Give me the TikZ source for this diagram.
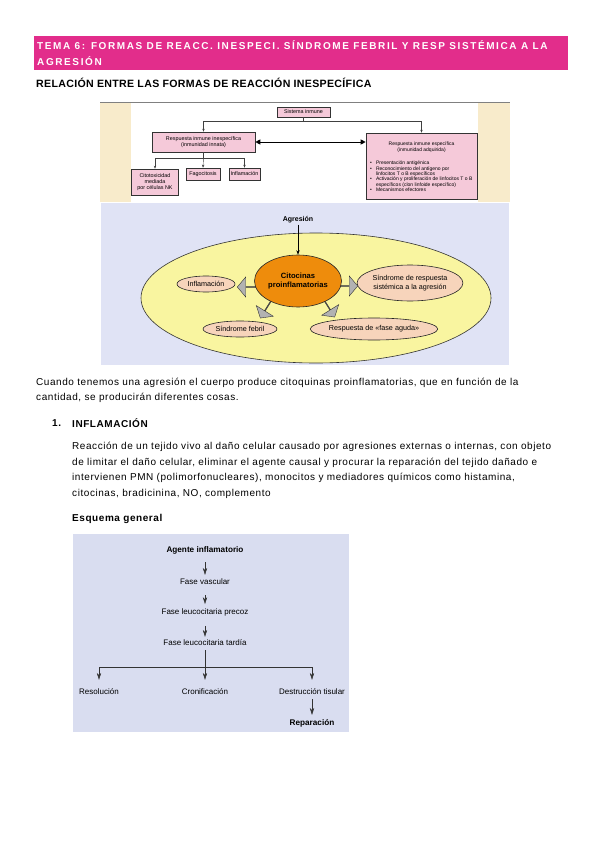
\documentclass[tikz,border=0pt]{standalone}
\usepackage{fontspec}
\setmainfont{Liberation Sans}
\usetikzlibrary{shapes.arrows,shapes.geometric,arrows.meta}
\definecolor{hdr}{HTML}{E22D8B}
\definecolor{beige}{HTML}{F8EBCB}
\definecolor{lav}{HTML}{E0E3F5}
\definecolor{pinkb}{HTML}{F5C9D9}
\definecolor{yel}{HTML}{F9F5A0}
\definecolor{orng}{HTML}{EE8C0C}
\definecolor{peach}{HTML}{F7D4BB}
\definecolor{lavb}{HTML}{D9DDF0}
\newcommand{\bitem}{\par\hangindent=6pt\hangafter=1\makebox[6pt][l]{•}}
\begin{document}
\begin{tikzpicture}[x=1pt,y=-1pt,
  body/.style={anchor=west,inner sep=0,font=\fontsize{10}{12}\selectfont\addfontfeatures{LetterSpace=5.6}},
  bodyb/.style={anchor=west,inner sep=0,font=\fontsize{10}{12}\selectfont\bfseries\addfontfeatures{LetterSpace=5.6}},
  pb/.style={draw=gray!40!black,fill=pinkb,line width=0.6pt,inner sep=0,align=center,font=\fontsize{5.4}{6.2}\selectfont},
  tl/.style={draw=gray!50!black,line width=0.4pt},
  tla/.style={tl,-{Stealth[length=3pt,width=2.4pt]}},
  oval/.style={ellipse,draw=gray!30!black,fill=peach,line width=0.6pt,inner sep=0,align=center,font=\fontsize{7.2}{8.4}\selectfont},
  barrow/.style={single arrow,draw=gray!40!black,fill=gray!60,line width=0.4pt,minimum width=20pt,minimum height=21pt,single arrow head extend=4.5pt,single arrow tip angle=100,single arrow head indent=0pt,inner sep=0},
  sf/.style={inner sep=0,font=\fontsize{8}{9}\selectfont},
  sfb/.style={inner sep=0,font=\fontsize{8.2}{9}\selectfont\bfseries},
  ba/.style={draw=gray!40!black,line width=0.5pt,-{Stealth[length=7pt,width=4.4pt]}}
]
\useasboundingbox (0,0) rectangle (599,848);
\fill[white] (0,0) rectangle (599,848);
% header
\fill[hdr] (34,36) rectangle (568,70);
\node[anchor=west,inner sep=0,text=white,font=\fontsize{10}{11}\selectfont\bfseries\addfontfeatures{LetterSpace=16}] (h1) at (37,45) {TEMA 6: FORMAS DE REACC. INESPECI. SÍNDROME FEBRIL Y RESP SISTÉMICA A LA};
\node[anchor=west,inner sep=0,text=white,font=\fontsize{10}{11}\selectfont\bfseries\addfontfeatures{LetterSpace=16}] (h2) at (37,61) {AGRESIÓN};
\node[anchor=west,inner sep=0,font=\fontsize{10.6}{12}\selectfont\bfseries\addfontfeatures{LetterSpace=3}] (t1) at (36,83) {RELACIÓN ENTRE LAS FORMAS DE REACCIÓN INESPECÍFICA};
% top figure
\fill[beige] (100,102) rectangle (510,202);
\fill[white] (131,103) rectangle (478,202);
\draw[gray,line width=0.8pt] (100,102) -- (510,102);
\node[pb,minimum width=53pt,minimum height=10pt] (si) at (303.5,112) {Sistema inmune};
\node[pb,minimum width=103pt,minimum height=20pt] (ri) at (203.5,142) {Respuesta inmune inespecífica\\(inmunidad innata)};
\node[pb,minimum width=111pt,minimum height=66pt] (re) at (421.5,166) {};
\node[inner sep=0,anchor=north] (ret) at (421.5,142) {\begin{minipage}{103pt}\fontsize{5}{5.4}\selectfont
\centering Respuesta inmune específica\\(inmunidad adquirida)\par\vspace{8pt}\raggedright
\bitem Presentación antigénica
\bitem Reconocimiento del antígeno por\hfil\break linfocitos T o B específicos
\bitem Activación y proliferación de linfocitos T o B\hfil\break específicos (clon linfoide específico)
\bitem Mecanismos efectores\par
\end{minipage}};
\node[pb,minimum width=47pt,minimum height=26pt] (ct) at (155,182) {Citotoxicidad\\mediada\\por células NK};
\node[pb,minimum width=34pt,minimum height=12pt] (fa) at (203,174) {Fagocitosis};
\node[pb,minimum width=31pt,minimum height=12pt] (inf1) at (244.5,174) {Inflamación};
\coordinate (j1) at (303.5,121);
\draw[tl] (si.south) -- (j1);
\draw[tla] (j1) -| (ri.north);
\draw[tla] (j1) -| (re.north);
\draw[line width=0.9pt,{Triangle[length=5pt,width=5pt]}-{Triangle[length=5pt,width=5pt]}] (ri.east) -- (ri.east -| re.west);
\coordinate (j2) at (203.5,158);
\draw[tl] (ri.south) -- (j2);
\draw[tla] (j2) -| (ct.north);
\draw[tla] (j2) -- (fa.north);
\draw[tla] (j2) -| (inf1.north);
% middle figure
\fill[lav] (101,203) rectangle (509,365);
\draw[fill=yel,draw=gray!40!black,line width=0.6pt] (316,298) ellipse [x radius=175, y radius=65];
\node[barrow,rotate=180] (a1) at (248,287) {};
\node[barrow,minimum height=19pt] (a2) at (348,286) {};
\node[barrow,rotate=-122] (a3) at (266,309) {};
\node[barrow,rotate=-58] (a4) at (329,308) {};
\node[ellipse,fill=orng,draw=gray!30!black,line width=0.6pt,minimum width=87pt,minimum height=52pt,inner sep=0,align=center,font=\fontsize{7.6}{8.8}\selectfont\bfseries] (cit) at (298,281) {Citocinas\\proinflamatorias};
\node[inner sep=1pt,font=\fontsize{7}{8}\selectfont\bfseries] (ag) at (298,220) {Agresión};
\draw[line width=0.6pt,-{Stealth[length=4.5pt,width=3.4pt]}] (ag) -- (cit);
\node[oval,minimum width=58pt,minimum height=16pt] (inf2) at (206,284) {Inflamación};
\node[oval,minimum width=104pt,minimum height=36pt] (sra) at (410,283) {Síndrome de respuesta\\sistémica a la agresión};
\node[oval,minimum width=74pt,minimum height=16pt] (sfe) at (240,329) {Síndrome febril};
\node[oval,minimum width=118pt,minimum height=22pt] (rfa) at (374,329) {Respuesta de «fase aguda»};
% text
\node[body] (p1) at (36,383) {Cuando tenemos una agresión el cuerpo produce citoquinas proinflamatorias, que en función de la};
\node[body] (p2) at (36,398) {cantidad, se producirán diferentes cosas.};
\node[bodyb] (n1) at (52,423) {1.};
\node[bodyb] (s1) at (72,423) {INFLAMACIÓN};
\node[body] (q1) at (72,447) {Reacción de un tejido vivo al daño celular causado por agresiones externas o internas, con objeto};
\node[body] (q2) at (72,463) {de limitar el daño celular, eliminar el agente causal y procurar la reparación del tejido dañado e};
\node[body] (q3) at (72,478) {intervienen PMN (polimorfonucleares), monocitos y mediadores químicos como histamina,};
\node[body] (q4) at (72,494) {citocinas, bradicinina, NO, complemento};
\node[bodyb] (eg) at (72,519) {Esquema general};
% bottom figure
\fill[lavb] (73,534) rectangle (349,732);
\node[sfb] (agi) at (205,550) {Agente inflamatorio};
\node[sf] (fv) at (205,582) {Fase vascular};
\node[sf] (flp) at (205,612) {Fase leucocitaria precoz};
\node[sf] (flt) at (205,643) {Fase leucocitaria tardía};
\node[sf] (res) at (99,692) {Resolución};
\node[sf] (cro) at (205,692) {Cronificación};
\node[sf] (des) at (312,692) {Destrucción tisular};
\node[sfb] (rep) at (312,723) {Reparación};
\draw[ba,shorten <=8pt,shorten >=4pt] (agi) -- (fv);
\draw[ba,shorten <=10pt,shorten >=4pt] (fv) -- (flp);
\draw[ba,shorten <=10pt,shorten >=3pt] (flp) -- (flt);
\draw[ba,shorten <=4pt,shorten >=9pt] (flt) -- (cro);
\coordinate (j3) at (205,667);
\draw[draw=gray!40!black,line width=0.5pt] (res |- j3) -- (des |- j3);
\draw[ba,shorten >=9pt] (res |- j3) -- (res);
\draw[ba,shorten >=9pt] (des |- j3) -- (des);
\draw[ba,shorten <=4pt,shorten >=4pt] (des) -- (rep);
\end{tikzpicture}
\end{document}
